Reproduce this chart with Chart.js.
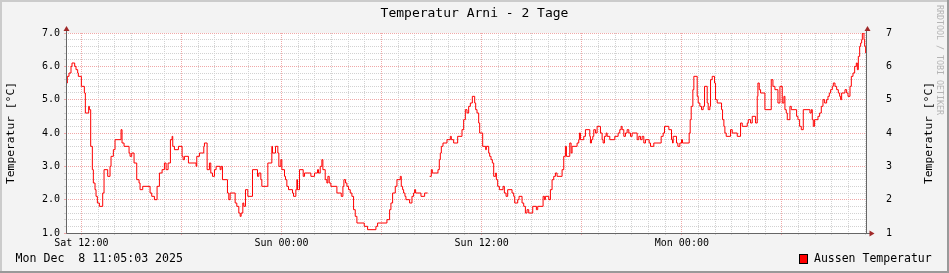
<!DOCTYPE html>
<html>
<head>
<meta charset="utf-8">
<script src="https://cdn.jsdelivr.net/npm/chart.js@4.4.1/dist/chart.umd.min.js"></script>
<style>
  html, body { margin: 0; padding: 0; background: #f3f3f3; }
  #wrap { width: 949px; height: 273px; }
</style>
</head>
<body>
<div id="wrap"><canvas id="myChart" width="949" height="273"></canvas></div>
<script>
// hours since Sat 12:00 where each reading starts (step plot)
var hours = [
  -0.88, -0.84, -0.74, -0.62, -0.56, -0.40, -0.32, -0.22, -0.18, 0.00,
  0.18, 0.24, 0.44, 0.48, 0.56, 0.66, 0.72, 0.82, 0.88, 0.96,
  1.08, 1.28, 1.36, 1.58, 1.72, 1.78, 1.92, 2.02, 2.38, 2.44,
  2.56, 2.86, 2.92, 3.02, 3.16, 3.32, 3.46, 3.52, 3.68, 4.12,
  4.22, 4.38, 4.54, 4.68, 4.84, 4.98, 5.08, 5.20, 5.34, 5.44,
  5.48, 5.58, 5.82, 6.04, 6.10, 6.18, 6.42, 6.88, 6.92, 7.08,
  7.34, 7.38, 7.54, 7.68, 7.76, 7.86, 7.98, 8.08, 8.32, 8.38,
  8.46, 8.76, 8.84, 8.92, 9.22, 9.32, 9.44, 9.52, 9.58, 9.68,
  9.74, 9.84, 9.98, 10.26, 10.56, 10.64, 10.76, 10.82, 11.18, 11.42,
  11.46, 11.64, 11.78, 11.84, 11.96, 12.02, 12.18, 12.24, 12.32, 12.42,
  12.66, 12.72, 12.86, 12.92, 12.96, 13.08, 13.30, 13.38, 13.76, 13.98,
  14.16, 14.22, 14.32, 14.42, 14.48, 14.62, 14.72, 14.78, 14.86, 14.96,
  15.32, 15.58, 15.68, 15.74, 15.84, 15.92, 16.02, 16.12, 16.22, 16.32,
  16.42, 16.52, 16.96, 17.16, 17.66, 17.76, 18.32, 18.48, 18.56, 18.66,
  18.82, 18.92, 19.12, 19.18, 19.26, 19.32, 19.40, 19.46, 19.68, 19.82,
  19.92, 19.98, 20.04, 20.36, 20.58, 20.76, 20.77, 20.88, 20.98, 21.04,
  21.38, 21.46, 21.52, 21.58, 21.68, 21.92, 22.12, 22.18, 22.32, 22.56,
  22.82, 22.92, 23.02, 23.12, 23.22, 23.32, 23.44, 23.58, 23.64, 23.72,
  23.82, 23.88, 24.06, 24.24, 24.28, 24.42, 24.48, 24.56, 24.64, 24.72,
  24.84, 24.88, 24.96, 25.06, 25.28, 25.36, 25.46, 25.56, 25.82, 25.92,
  25.98, 26.16, 26.24, 26.42, 26.52, 26.62, 26.72, 26.82, 27.06, 27.28,
  27.36, 27.68, 27.76, 27.82, 28.02, 28.12, 28.22, 28.32, 28.42, 28.52,
  28.82, 28.92, 29.02, 29.08, 29.28, 29.36, 29.42, 29.72, 29.82, 29.86,
  29.92, 30.12, 30.22, 30.48, 30.52, 30.58, 30.66, 30.72, 30.82, 30.92,
  31.12, 31.22, 31.28, 31.36, 31.46, 31.52, 31.68, 31.98, 32.18, 32.28,
  32.36, 32.42, 32.52, 32.62, 32.72, 32.82, 32.92, 33.02, 33.32, 33.42,
  33.52, 33.62, 33.72, 33.82, 34.04, 34.12, 34.32, 34.76, 34.88, 34.96,
  35.22, 35.38, 35.44, 35.48, 35.68, 35.76, 35.88, 35.98, 36.04, 36.44,
  36.50, 36.56, 36.66, 36.72, 36.92, 36.98, 37.08, 37.18, 37.28, 37.36,
  37.52, 37.58, 37.68, 37.72, 37.82, 37.96, 38.02, 38.12, 38.38, 38.44,
  38.52, 38.58, 38.66, 38.92, 39.02, 39.32, 39.52, 39.62, 39.92, 39.98,
  40.12, 40.22, 40.42, 40.52, 40.56, 40.64, 40.72, 40.98, 41.36, 41.46,
  41.58, 41.76, 41.88, 42.02, 42.12, 42.18, 42.26, 42.32, 42.48, 42.56,
  42.88, 42.96, 43.06, 43.16, 43.28, 43.68, 43.76, 43.82, 43.88, 43.96,
  44.16, 44.26, 44.36, 44.46, 44.56, 44.68, 44.76, 44.84, 44.92, 45.02,
  45.08, 45.18, 45.28, 45.38, 45.46, 45.52, 45.58, 45.78, 45.88, 45.96,
  46.08, 46.16, 46.26, 46.36, 46.46, 46.52, 46.58, 46.66, 46.72, 46.78,
  46.82, 46.92, 46.96, 47.02
];
// Aussen Temperatur in °C (null = no data)
var temps = [
  5.5, 5.7, 5.8, 6.0, 6.1, 6.0, 5.9, 5.8, 5.7, 5.4,
  5.2, 4.6, 4.8, 4.7, 3.6, 2.9, 2.5, 2.3, 2.1, 1.9,
  1.8, 2.2, 2.9, 2.7, 3.0, 3.3, 3.5, 3.8, 4.1, 3.7,
  3.6, 3.4, 3.3, 3.4, 3.1, 2.6, 2.5, 2.3, 2.4, 2.2,
  2.1, 2.0, 2.4, 2.8, 2.9, 3.1, 2.9, 3.1, 3.8, 3.9,
  3.6, 3.5, 3.6, 3.3, 3.2, 3.3, 3.1, 3.0, 3.3, 3.4,
  3.6, 3.7, 2.9, 3.1, 2.8, 2.7, 2.9, 3.0, 2.9, 3.0,
  2.6, 2.2, 2.0, 2.2, 1.9, 1.8, 1.6, 1.5, 1.6, 1.9,
  1.8, 2.3, 2.1, 2.9, 2.7, 2.8, 2.6, 2.4, 3.1, 3.6,
  3.4, 3.6, 3.4, 3.0, 3.2, 2.9, 2.7, 2.6, 2.4, 2.3,
  2.2, 2.1, 2.3, 2.6, 2.3, 2.9, 2.7, 2.8, 2.7, 2.8,
  2.9, 2.8, 3.0, 3.2, 2.9, 2.6, 2.5, 2.7, 2.5, 2.4,
  2.2, 2.1, 2.4, 2.6, 2.5, 2.4, 2.3, 2.2, 2.1, 1.7,
  1.5, 1.3, 1.2, 1.1, 1.2, 1.3, 1.4, 1.7, 1.9, 2.2,
  2.4, 2.6, 2.7, 2.4, 2.3, 2.2, 2.1, 2.0, 1.9, 2.1,
  2.2, 2.3, 2.2, 2.1, 2.2, 2.2, null, 2.7, 2.9, 2.8,
  2.9, 3.2, 3.4, 3.6, 3.7, 3.8, 3.9, 3.8, 3.7, 3.9,
  4.1, 4.4, 4.7, 4.6, 4.8, 4.9, 5.1, 4.9, 4.7, 4.6,
  4.3, 4.0, 3.6, 3.5, 3.6, 3.4, 3.3, 3.2, 3.1, 2.7,
  2.8, 2.6, 2.4, 2.3, 2.4, 2.2, 2.1, 2.3, 2.2, 2.1,
  1.9, 2.0, 2.1, 1.9, 1.8, 1.6, 1.7, 1.6, 1.8, 1.7,
  1.8, 2.1, 2.0, 2.1, 2.0, 2.3, 2.6, 2.7, 2.8, 2.7,
  2.9, 3.3, 3.6, 3.3, 3.7, 3.4, 3.6, 3.7, 3.8, 4.0,
  3.8, 3.9, 4.1, 3.9, 3.7, 3.8, 3.9, 4.1, 4.0, 4.2,
  4.0, 3.8, 3.7, 3.9, 4.0, 3.9, 3.8, 3.9, 4.0, 4.1,
  4.2, 4.1, 3.9, 4.0, 4.1, 4.0, 3.9, 4.0, 3.8, 3.9,
  3.8, 3.9, 3.7, 3.8, 3.7, 3.6, 3.7, 3.9, 4.0, 4.2,
  4.1, 3.8, 3.7, 3.9, 3.7, 3.6, 3.7, 3.8, 3.7, 4.0,
  4.4, 4.8, 5.3, 5.7, 5.1, 4.9, 4.8, 4.7, 4.8, 5.4,
  4.9, 4.7, 4.8, 5.6, 5.7, 5.5, 5.0, 4.9, 4.7, 4.4,
  4.2, 4.0, 3.9, 4.1, 4.0, 3.9, 4.3, 4.2, 4.3, 4.4,
  4.3, 4.5, 4.3, 5.1, 5.5, 5.3, 5.2, 4.7, 5.6, 5.4,
  5.3, 4.9, 5.4, 4.9, 5.1, 4.7, 4.6, 4.4, 4.8, 4.7,
  4.5, 4.4, 4.2, 4.1, 4.7, 4.6, 4.7, 4.4, 4.2, 4.4,
  4.5, 4.6, 4.8, 5.0, 4.9, 5.0, 5.1, 5.2, 5.3, 5.4,
  5.5, 5.4, 5.3, 5.2, 5.1, 5.0, 5.2, 5.3, 5.2, 5.1,
  5.4, 5.7, 5.8, 6.0, 6.1, 5.9, 6.3, 6.6, 6.7, 6.8,
  7.0, 6.8, 6.6, 6.4
];
var labelHours = [0, 12, 24, 36];
var timeLabels = ["Sat 12:00", "Sun 00:00", "Sun 12:00", "Mon 00:00"];
var yTickLabels = ["1.0", "2.0", "3.0", "4.0", "5.0", "6.0", "7.0"];
var seriesName = "Aussen Temperatur";
var chartTitle = "Temperatur Arni - 2 Tage";
var axisTitle = "Temperatur [°C]";
var stampText = "Mon Dec  8 11:05:03 2025";

var xMin = -0.92, xMax = 47.04;
var MONO = "'DejaVu Sans Mono', monospace";
var majorGrid = "#f0a8a8";
var minorGrid = "#d2d2d2";

var points = hours.map(function (h, i) { return { x: h, y: temps[i] }; });

function isWhole(v) { return Math.abs(v - Math.round(v)) < 1e-6; }

var rrdDecor = {
  id: "rrdDecor",
  beforeDraw: function (chart) {
    var c = chart.ctx, a = chart.chartArea;
    c.save();
    c.fillStyle = "#f3f3f3";
    c.fillRect(0, 0, chart.width, chart.height);
    c.fillStyle = "#ffffff";
    c.fillRect(a.left, a.top, a.right - a.left, a.bottom - a.top);
    c.restore();
  },
  afterDraw: function (chart) {
    var c = chart.ctx, a = chart.chartArea;
    var L = Math.round(a.left) + 0.5, R = Math.round(a.right) + 0.5, B = Math.round(a.bottom) + 0.5;
    c.save();
    // axes
    c.strokeStyle = "#666666";
    c.lineWidth = 1;
    c.beginPath();
    c.moveTo(L, B); c.lineTo(L, a.top - 4);
    c.moveTo(L, B); c.lineTo(R + 4, B);
    c.moveTo(R, B); c.lineTo(R, a.top - 4);
    c.stroke();
    // arrows
    c.fillStyle = "#a02828";
    function up(x) { c.beginPath(); c.moveTo(x - 3, a.top - 2); c.lineTo(x + 3, a.top - 2); c.lineTo(x, a.top - 7); c.closePath(); c.fill(); }
    up(L); up(R + 1);
    c.beginPath(); c.moveTo(R + 3, B - 3); c.lineTo(R + 3, B + 3); c.lineTo(R + 8, B); c.closePath(); c.fill();

    c.fillStyle = "#000000";
    c.textBaseline = "middle";
    // title
    c.font = "13px " + MONO;
    c.textAlign = "center";
    c.fillText(chartTitle, chart.width / 2, 14);
    // axis titles
    c.font = "11.3px " + MONO;
    [11, 929].forEach(function (x) {
      c.save();
      c.translate(x, 133);
      c.rotate(-Math.PI / 2);
      c.fillText(axisTitle, 0, 0);
      c.restore();
    });
    // timestamp
    c.font = "11.6px " + MONO;
    c.textAlign = "left";
    c.fillText(stampText, 15.5, 259);
    // legend
    c.fillStyle = "#ff0000";
    c.fillRect(799, 254, 8, 9);
    c.strokeStyle = "#000000";
    c.strokeRect(799.5, 254.5, 8, 9);
    c.fillStyle = "#000000";
    c.font = "11.5px " + MONO;
    c.fillText(seriesName, 814, 259);
    // watermark
    c.save();
    c.translate(939, 5);
    c.rotate(Math.PI / 2);
    c.fillStyle = "#b4b4b4";
    c.font = "8.3px " + MONO;
    c.textAlign = "left";
    c.fillText("RRDTOOL / TOBI OETIKER", 0, 0);
    c.restore();
    // frame
    c.fillStyle = "#cbcbcb";
    c.fillRect(0, 0, chart.width, 2);
    c.fillRect(0, 0, 2, chart.height);
    c.fillStyle = "#999999";
    c.fillRect(0, chart.height - 2, chart.width, 2);
    c.fillRect(chart.width - 2, 0, 2, chart.height);
    c.restore();
  }
};

new Chart("myChart", {
  type: "line",
  data: {
    datasets: [{
      label: seriesName,
      data: points,
      borderColor: "#ff0000",
      borderWidth: 1,
      stepped: "before",
      pointRadius: 0,
      fill: false,
      spanGaps: false
    }]
  },
  options: {
    responsive: false,
    devicePixelRatio: 1,
    animation: false,
    layout: { padding: { top: 33, left: 0, right: 0, bottom: 0 } },
    plugins: {
      legend: { display: false },
      title: { display: false },
      tooltip: { enabled: false }
    },
    scales: {
      x: {
        type: "linear",
        min: xMin,
        max: xMax,
        afterBuildTicks: function (s) {
          var t = [];
          for (var h = 0; h <= 47; h++) t.push({ value: h });
          s.ticks = t;
        },
        afterFit: function (s) { s.height = 40; },
        grid: {
          color: function (ctx) { return ctx.tick && ctx.tick.value % 6 === 0 ? majorGrid : minorGrid; },
          tickLength: 2
        },
        border: { display: false, dash: [1, 1] },
        ticks: {
          autoSkip: false,
          maxRotation: 0,
          padding: 2,
          color: "#000000",
          font: { family: MONO, size: 10 },
          callback: function (v) {
            var i = labelHours.indexOf(v);
            return i >= 0 ? timeLabels[i] : "";
          }
        }
      },
      y: {
        min: 1,
        max: 7,
        afterBuildTicks: function (s) {
          var t = [];
          for (var k = 0; k <= 30; k++) t.push({ value: Math.round((1 + k * 0.2) * 10) / 10 });
          s.ticks = t;
        },
        afterFit: function (s) { s.width = 66; },
        grid: {
          color: function (ctx) { return ctx.tick && isWhole(ctx.tick.value) ? majorGrid : minorGrid; },
          tickLength: 2
        },
        border: { display: false, dash: [1, 1] },
        ticks: {
          autoSkip: false,
          padding: 4,
          color: "#000000",
          font: { family: MONO, size: 10 },
          callback: function (v) { return isWhole(v) ? yTickLabels[Math.round(v) - 1] : ""; }
        }
      },
      y2: {
        position: "right",
        min: 1,
        max: 7,
        afterBuildTicks: function (s) {
          var t = [];
          for (var k = 1; k <= 7; k++) t.push({ value: k });
          s.ticks = t;
        },
        afterFit: function (s) { s.width = 83; },
        grid: { drawOnChartArea: false, drawTicks: false },
        border: { display: false },
        ticks: {
          autoSkip: false,
          padding: 20,
          color: "#000000",
          font: { family: MONO, size: 10 },
          callback: function (v) { return String(v); }
        }
      }
    }
  },
  plugins: [rrdDecor]
});
</script>
</body>
</html>
